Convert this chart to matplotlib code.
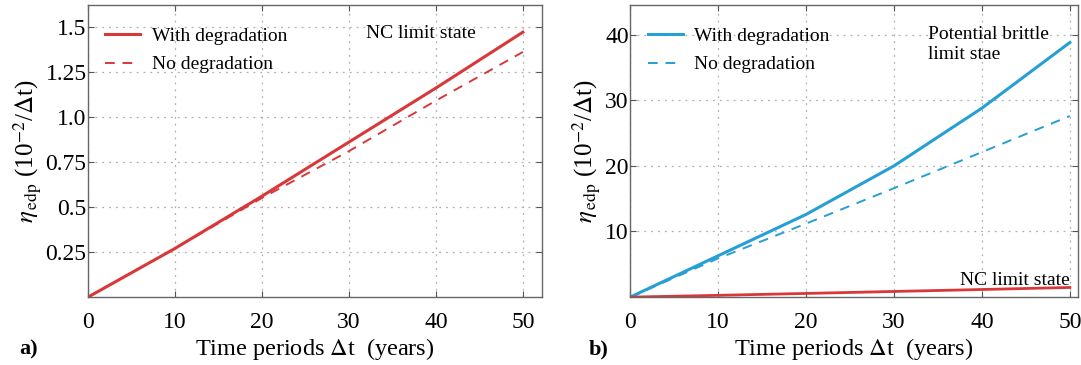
import matplotlib
matplotlib.use("Agg")
import matplotlib.pyplot as plt

# data
years = [0, 10, 20, 30, 40, 50]
nc_with = [0.0, 0.27, 0.56, 0.86, 1.16, 1.47]
nc_without = [0.0, 0.27, 0.55, 0.81, 1.09, 1.36]
brittle_with = [0.0, 6.3, 12.6, 20.0, 28.8, 38.8]
brittle_without = [0.0, 5.9, 11.2, 16.6, 22.1, 27.6]

x_ticks = [0, 10, 20, 30, 40, 50]
y_ticks_a = [0.25, 0.5, 0.75, 1.0, 1.25, 1.5]
y_ticks_b = [10, 20, 30, 40]

red = "#d9383a"
blue = "#259fd4"

plt.rcParams["font.family"] = ["Liberation Serif", "DejaVu Serif"]
plt.rcParams["mathtext.fontset"] = "stix"
plt.rcParams["font.size"] = 15

fig = plt.figure(figsize=(10.81, 3.65), dpi=100)
ax1 = fig.add_axes([0.0814, 0.186, 0.42, 0.8])
ax2 = fig.add_axes([0.583, 0.186, 0.414, 0.8])

ylabel = r"$\eta_{\,\mathrm{edp}}$ (10$^{-2}$/$\Delta$t)"

for ax in (ax1, ax2):
    ax.grid(True, linestyle=(0, (1.5, 4)), color="#b0b0b0", linewidth=0.9)
    ax.tick_params(direction="in", top=True, right=True, length=4, color="#555555", labelsize=17)
    ax.tick_params(axis="x", pad=11)
    ax.tick_params(axis="y", pad=1)
    for s in ax.spines.values():
        s.set_color("#666666")
        s.set_linewidth(1.0)
    ax.set_xticks(x_ticks)
    ax.set_xlabel(r"Time periods $\Delta$t  (years)", fontsize=17.5, labelpad=2)
    ax.set_ylabel(ylabel, fontsize=18, labelpad=2)

# a) NC limit state
ax1.plot(years, nc_with, color=red, lw=2.2, label="With degradation")
ax1.plot(years, nc_without, color=red, lw=1.4, ls=(0, (5, 4)), label="No degradation")
ax1.set_xlim(0, 52.2)
ax1.set_ylim(0, 1.62)
ax1.set_yticks(y_ticks_a)
ax1.set_yticklabels(["0.25", "0.5", "0.75", "1.0", "1.25", "1.5"])
ax1.legend(loc="upper left", bbox_to_anchor=(-0.011, 1.0), frameon=False, fontsize=14,
           handlelength=1.8, handletextpad=0.6, borderaxespad=0.75, labelspacing=0.55)
ax1.text(38.3, 1.46, "NC limit state", fontsize=14, ha="center", va="center")

# b) potential brittle limit state
ax2.plot(years, brittle_with, color=blue, lw=2.2, label="With degradation")
ax2.plot(years, brittle_without, color=blue, lw=1.4, ls=(0, (5, 4)), label="No degradation")
ax2.plot(years, nc_with, color=red, lw=2.0)
ax2.set_xlim(0, 50.9)
ax2.set_ylim(0, 44.5)
ax2.set_yticks(y_ticks_b)
ax2.legend(loc="upper left", bbox_to_anchor=(-0.011, 1.0), frameon=False, fontsize=14,
           handlelength=1.8, handletextpad=0.6, borderaxespad=0.75, labelspacing=0.55)
ax2.text(33.9, 41.3, "Potential brittle\nlimit stae", fontsize=14, ha="left", va="top",
         linespacing=1.2)
ax2.text(50.0, 2.6, "NC limit state", fontsize=14, ha="right", va="center")

fig.text(0.018, 0.03, "a)", fontsize=16, fontweight="bold")
fig.text(0.545, 0.03, "b)", fontsize=16, fontweight="bold")

fig.savefig("out.png", dpi=100)
